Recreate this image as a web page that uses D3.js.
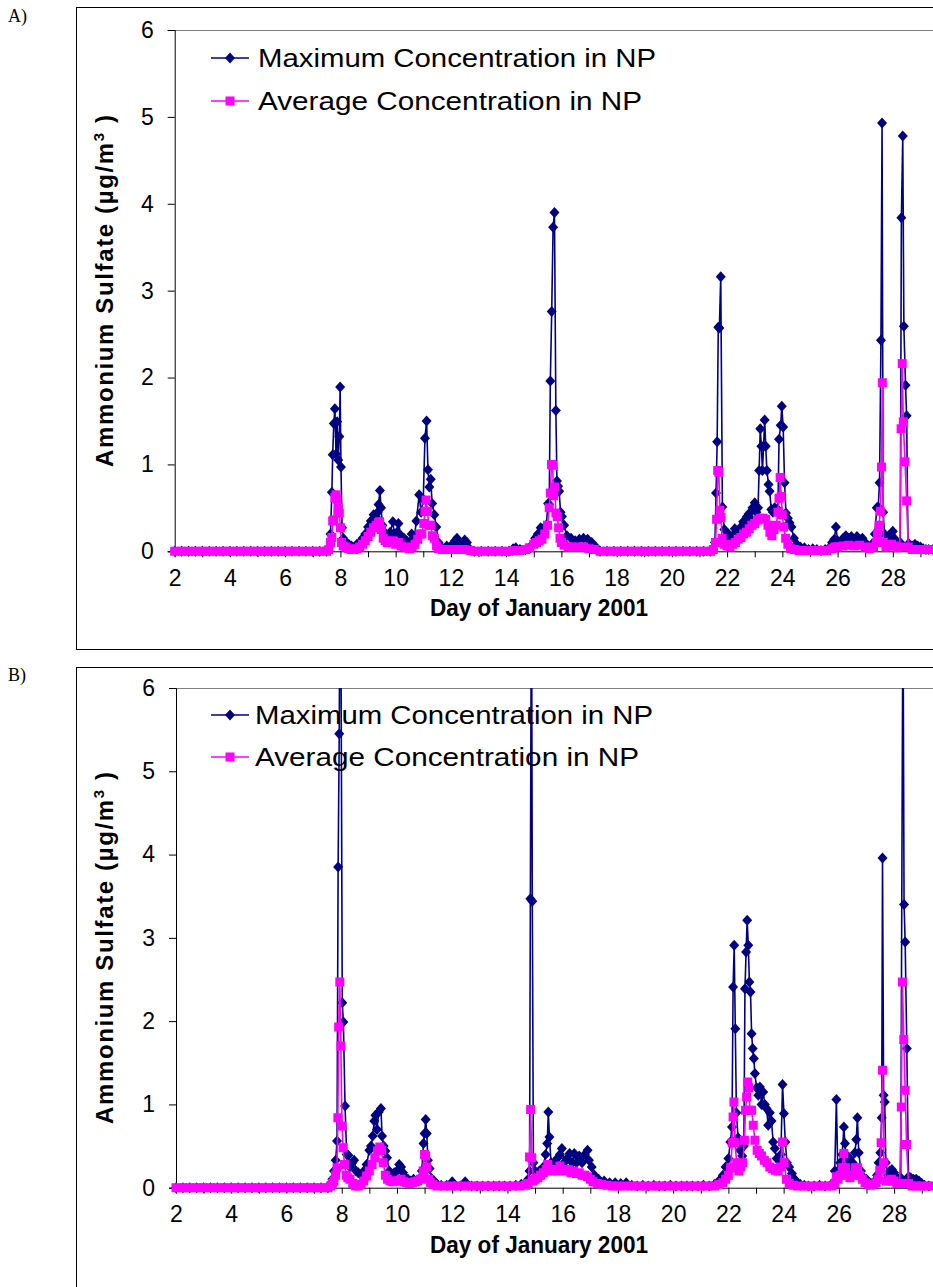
<!DOCTYPE html>
<html>
<head>
<meta charset="utf-8">
<script src="https://cdn.jsdelivr.net/npm/d3@7"></script>
<style>
  body { margin: 0; background: #fff; }
  svg { display: block; }
  text { font-family: "Liberation Sans", Arial, sans-serif; fill: #000; }
</style>
</head>
<body>
<svg id="chart" width="933" height="1287"></svg>
<script>
// tick values / labels
const dayTicks = [2,3,4,5,6,7,8,9,10,11,12,13,14,15,16,17,18,19,20,21,22,23,24,25,26,27,28,29];
const dayLabels = [2,4,6,8,10,12,14,16,18,20,22,24,26,28];
const concTicks = [0,1,2,3,4,5,6];
const seriesNames = ['Maximum Concentration in NP', 'Average Concentration in NP'];

// Panel A: [day, value]
const maxA = [[2,0],[2.25,0],[2.5,0],[2.75,0],[3,0],[3.25,0],[3.5,0],[3.75,0],[4,0],[4.25,0],[4.5,0],[4.75,0],[5,0],[5.25,0],[5.5,0],[5.75,0],[6,0],[6.25,0],[6.5,0],[6.75,0],[7,0],[7.25,0],[7.5,0],
  [7.58,0.05],[7.64,0.2],[7.69,0.68],[7.72,1.11],[7.76,1.47],[7.8,1.64],[7.84,1.12],[7.88,1.49],[7.92,1.05],[7.96,1.32],[7.99,1.89],[8.02,0.97],[8.06,0.27],[8.1,0.15],[8.2,0.1],[8.3,0.08],[8.4,0.06],[8.5,0.05],[8.6,0.08],[8.7,0.1],[8.8,0.15],[8.9,0.2],[9.0,0.28],[9.1,0.35],[9.2,0.42],[9.28,0.4],[9.35,0.45],[9.38,0.54],[9.43,0.7],[9.47,0.5],[9.52,0.3],[9.6,0.22],[9.7,0.18],[9.8,0.22],[9.9,0.34],[9.95,0.2],[10.05,0.22],[10.1,0.32],[10.2,0.18],[10.3,0.15],[10.4,0.12],[10.5,0.1],[10.58,0.2],[10.66,0.12],[10.75,0.35],[10.85,0.65],[10.92,0.45],[11.0,0.6],[11.06,1.3],[11.12,1.5],[11.17,0.94],[11.22,0.74],[11.27,0.83],[11.32,0.55],[11.4,0.42],[11.47,0.28],[11.55,0.1],[11.65,0.05],[11.75,0.03],[11.85,0.06],[11.95,0.04],[12.05,0.08],[12.15,0.12],[12.22,0.15],[12.3,0.08],[12.4,0.05],[12.5,0.13],[12.58,0.1],[12.7,0.02],
  [12.85,0],[13.1,0],[13.35,0],[13.6,0],[13.85,0],[14.1,0],[14.25,0.03],[14.35,0.04],[14.5,0.02],[14.7,0.02],[14.85,0.03],[14.95,0.08],[15.05,0.15],[15.15,0.2],[15.25,0.27],[15.35,0.25],[15.45,0.3],[15.52,0.55],[15.56,0.54],[15.6,1.96],[15.65,2.76],[15.7,3.73],[15.75,3.9],[15.8,1.62],[15.84,0.81],[15.88,0.75],[15.92,0.69],[15.97,0.45],[16.02,0.4],[16.1,0.3],[16.2,0.18],[16.35,0.15],[16.5,0.12],[16.65,0.14],[16.8,0.15],[16.95,0.14],[17.1,0.1],[17.25,0.05],
  [17.4,0],[17.65,0],[17.9,0],[18.15,0],[18.4,0],[18.65,0],[18.9,0],[19.15,0],[19.4,0],[19.65,0],[19.9,0],[20.15,0],[20.4,0],[20.65,0],[20.9,0],[21.15,0],[21.4,0],
  [21.5,0.02],[21.56,0.1],[21.6,0.67],[21.64,1.26],[21.68,2.58],[21.72,2.57],[21.77,3.16],[21.83,0.51],[21.9,0.25],[21.95,0.15],[22.0,0.12],[22.05,0.2],[22.1,0.15],[22.15,0.1],[22.2,0.18],[22.28,0.26],[22.35,0.15],[22.42,0.2],[22.5,0.28],[22.58,0.34],[22.65,0.3],[22.72,0.4],[22.78,0.43],[22.85,0.38],[22.92,0.5],[23.0,0.56],[23.06,0.45],[23.12,0.5],[23.16,0.93],[23.2,1.41],[23.24,1.21],[23.28,0.93],[23.32,1.21],[23.36,1.51],[23.4,1.21],[23.44,0.93],[23.5,0.77],[23.54,0.69],[23.6,0.48],[23.66,0.45],[23.72,0.5],[23.78,0.48],[23.84,0.48],[23.88,1.29],[23.94,1.45],[23.98,1.67],[24.03,1.43],[24.08,0.79],[24.13,0.44],[24.2,0.38],[24.26,0.33],[24.33,0.28],[24.42,0.15],[24.52,0.08],[24.65,0.05],[24.8,0.04],[24.95,0.02],[25.1,0.03],[25.25,0.02],[25.4,0.01],[25.55,0.02],[25.7,0.04],[25.8,0.1],[25.88,0.14],[25.94,0.28],[26.0,0.12],[26.1,0.1],[26.2,0.15],[26.3,0.18],[26.4,0.15],[26.5,0.17],[26.6,0.12],[26.7,0.17],[26.8,0.14],[26.9,0.15],[27.0,0.1],[27.1,0.06],[27.2,0.05],[27.3,0.1],[27.35,0.2],[27.42,0.5],[27.47,0.51],[27.52,0.79],[27.57,2.43],[27.61,4.93],[27.65,0.45],[27.7,0.2],[27.78,0.1],[27.85,0.18],[27.92,0.2],[28.0,0.23],[28.05,0.15],[28.12,0.08],[28.2,0.08],[28.27,0.1],[28.31,3.84],[28.36,4.78],[28.4,2.59],[28.46,1.91],[28.5,1.56],[28.55,0.08],[28.6,0.08],[28.7,0.06],[28.8,0.08],[28.9,0.06],[29.0,0.05],[29.1,0.03],[29.2,0.02],[29.3,0.02],[29.45,0.02]];

const avgA = [[2,0],[2.25,0],[2.5,0],[2.75,0],[3,0],[3.25,0],[3.5,0],[3.75,0],[4,0],[4.25,0],[4.5,0],[4.75,0],[5,0],[5.25,0],[5.5,0],[5.75,0],[6,0],[6.25,0],[6.5,0],[6.75,0],[7,0],[7.25,0],[7.5,0],
  [7.58,0.02],[7.64,0.1],[7.69,0.16],[7.72,0.35],[7.76,0.36],[7.8,0.62],[7.84,0.65],[7.88,0.6],[7.92,0.5],[7.96,0.44],[8.0,0.27],[8.04,0.1],[8.1,0.06],[8.2,0.05],[8.3,0.03],[8.4,0.02],[8.5,0.02],[8.6,0.03],[8.7,0.05],[8.8,0.08],[8.9,0.12],[9.0,0.17],[9.1,0.22],[9.2,0.27],[9.3,0.3],[9.38,0.33],[9.42,0.34],[9.48,0.25],[9.55,0.15],[9.62,0.12],[9.7,0.1],[9.8,0.1],[9.9,0.12],[10.0,0.08],[10.1,0.1],[10.2,0.06],[10.3,0.05],[10.4,0.04],[10.5,0.03],[10.6,0.05],[10.7,0.08],[10.8,0.14],[10.88,0.2],[10.95,0.2],[11.02,0.32],[11.06,0.46],[11.1,0.59],[11.15,0.46],[11.2,0.3],[11.27,0.3],[11.33,0.18],[11.4,0.15],[11.48,0.06],[11.55,0.03],[11.7,0.02],[11.9,0.02],[12.1,0.02],[12.3,0.02],[12.5,0.02],[12.7,0.01],
  [12.85,0],[13.1,0],[13.35,0],[13.6,0],[13.85,0],[14.1,0],[14.3,0.01],[14.5,0.01],[14.7,0.02],[14.85,0.04],[15.0,0.08],[15.1,0.1],[15.2,0.12],[15.3,0.14],[15.4,0.2],[15.5,0.3],[15.56,0.5],[15.6,0.67],[15.64,1.0],[15.68,0.99],[15.72,0.64],[15.76,0.74],[15.8,0.44],[15.85,0.4],[15.9,0.27],[15.95,0.15],[16.0,0.1],[16.1,0.07],[16.25,0.05],[16.4,0.05],[16.6,0.05],[16.8,0.05],[17.0,0.03],[17.2,0.02],
  [17.4,0],[17.65,0],[17.9,0],[18.15,0],[18.4,0],[18.65,0],[18.9,0],[19.15,0],[19.4,0],[19.65,0],[19.9,0],[20.15,0],[20.4,0],[20.65,0],[20.9,0],[21.15,0],[21.4,0],
  [21.5,0.02],[21.58,0.1],[21.62,0.37],[21.66,0.93],[21.7,0.91],[21.74,0.47],[21.78,0.39],[21.82,0.15],[21.9,0.08],[22.0,0.06],[22.1,0.05],[22.2,0.08],[22.3,0.1],[22.4,0.14],[22.5,0.16],[22.6,0.2],[22.7,0.22],[22.8,0.26],[22.9,0.3],[23.0,0.32],[23.1,0.36],[23.2,0.38],[23.3,0.38],[23.4,0.37],[23.48,0.3],[23.55,0.22],[23.62,0.18],[23.7,0.25],[23.78,0.3],[23.84,0.45],[23.88,0.61],[23.92,0.85],[23.96,0.63],[24.0,0.42],[24.05,0.28],[24.12,0.15],[24.2,0.08],[24.3,0.03],[24.45,0.02],[24.6,0.01],[24.8,0.01],[25.0,0.01],[25.2,0.01],[25.4,0.01],[25.6,0.01],[25.8,0.03],[25.9,0.05],[26.0,0.05],[26.2,0.06],[26.4,0.07],[26.6,0.06],[26.8,0.07],[27.0,0.05],[27.15,0.03],[27.3,0.05],[27.4,0.1],[27.45,0.2],[27.5,0.3],[27.55,0.46],[27.59,0.97],[27.62,1.94],[27.66,0.1],[27.75,0.05],[27.85,0.06],[27.95,0.08],[28.05,0.06],[28.15,0.04],[28.25,0.05],[28.3,1.41],[28.34,2.16],[28.38,1.49],[28.44,1.03],[28.5,0.58],[28.56,0.05],[28.7,0.02],[28.9,0.02],[29.1,0.02],[29.3,0.02],[29.45,0.02]];

// Panel B: [day, value]  (values above 6 run off the top of the plot)
const maxB = [[2,0],[2.25,0],[2.5,0],[2.75,0],[3,0],[3.25,0],[3.5,0],[3.75,0],[4,0],[4.25,0],[4.5,0],[4.75,0],[5,0],[5.25,0],[5.5,0],[5.75,0],[6,0],[6.25,0],[6.5,0],[6.75,0],[7,0],[7.25,0],[7.5,0],
  [7.6,0.05],[7.66,0.1],[7.72,0.2],[7.78,0.33],[7.83,0.56],[7.87,3.85],[7.91,5.45],[7.95,8.6],[8.02,2.22],[8.06,1.99],[8.12,0.98],[8.18,0.4],[8.24,0.39],[8.3,0.25],[8.38,0.3],[8.45,0.33],[8.52,0.2],[8.6,0.18],[8.7,0.15],[8.8,0.2],[8.9,0.28],[9.0,0.45],[9.06,0.5],[9.12,0.62],[9.18,0.8],[9.22,0.87],[9.28,0.7],[9.34,0.91],[9.42,0.95],[9.46,0.62],[9.52,0.5],[9.58,0.44],[9.64,0.36],[9.72,0.2],[9.8,0.15],[9.9,0.18],[10.0,0.2],[10.08,0.28],[10.15,0.25],[10.22,0.18],[10.3,0.12],[10.4,0.1],[10.5,0.08],[10.6,0.1],[10.7,0.08],[10.8,0.1],[10.9,0.2],[10.96,0.53],[11.0,0.65],[11.04,0.82],[11.08,0.65],[11.12,0.33],[11.18,0.23],[11.25,0.11],[11.35,0.08],[11.45,0.04],[11.6,0.03],[11.8,0.03],[12.0,0.07],[12.1,0.03],[12.3,0.02],[12.47,0.07],[12.7,0.02],[12.9,0.02],[13.1,0.02],[13.3,0.02],[13.5,0.02],[13.7,0.02],[13.9,0.02],[14.1,0.02],[14.3,0.03],[14.5,0.04],[14.65,0.05],[14.75,0.1],[14.8,0.2],[14.83,3.47],[14.87,7.6],[14.9,3.44],[14.94,0.3],[15.0,0.2],[15.08,0.15],[15.15,0.2],[15.22,0.15],[15.3,0.25],[15.38,0.4],[15.44,0.53],[15.48,0.91],[15.52,0.61],[15.58,0.3],[15.65,0.25],[15.72,0.3],[15.8,0.35],[15.9,0.4],[15.97,0.47],[16.05,0.3],[16.15,0.35],[16.25,0.41],[16.35,0.3],[16.42,0.41],[16.5,0.3],[16.6,0.38],[16.7,0.3],[16.8,0.4],[16.9,0.45],[16.95,0.33],[17.05,0.25],[17.15,0.15],[17.3,0.1],[17.5,0.08],[17.7,0.06],[17.9,0.06],[18.1,0.05],[18.3,0.06],[18.5,0.03],[18.7,0.02],[18.9,0.03],[19.1,0.02],[19.3,0.03],[19.5,0.02],[19.7,0.02],[19.9,0.03],[20.1,0.02],[20.3,0.02],[20.5,0.02],[20.7,0.02],[20.9,0.02],[21.1,0.03],[21.3,0.02],[21.5,0.04],[21.65,0.08],[21.8,0.15],[21.9,0.25],[22.0,0.35],[22.07,0.55],[22.13,0.73],[22.17,2.41],[22.21,2.91],[22.25,1.91],[22.29,0.9],[22.35,0.6],[22.42,0.45],[22.5,0.38],[22.56,0.5],[22.6,2.39],[22.64,2.83],[22.68,3.21],[22.72,2.91],[22.76,2.47],[22.8,2.35],[22.84,1.85],[22.88,1.67],[22.92,1.55],[22.96,1.37],[23.02,1.2],[23.08,1.11],[23.14,1.21],[23.2,1.0],[23.26,1.15],[23.32,1.0],[23.38,0.95],[23.44,0.75],[23.5,0.9],[23.56,0.8],[23.62,0.55],[23.68,0.47],[23.75,0.35],[23.82,0.33],[23.9,0.4],[23.96,1.24],[24.01,0.89],[24.06,0.55],[24.12,0.3],[24.2,0.25],[24.3,0.17],[24.4,0.1],[24.5,0.06],[24.6,0.04],[24.75,0.03],[24.9,0.02],[25.1,0.02],[25.3,0.03],[25.5,0.02],[25.7,0.03],[25.85,0.2],[25.91,1.06],[25.96,0.2],[26.05,0.3],[26.12,0.4],[26.18,0.73],[26.22,0.53],[26.28,0.3],[26.35,0.37],[26.42,0.2],[26.5,0.3],[26.58,0.42],[26.63,0.58],[26.67,0.84],[26.72,0.42],[26.8,0.2],[26.9,0.12],[27.0,0.1],[27.1,0.06],[27.2,0.05],[27.3,0.08],[27.38,0.15],[27.44,0.3],[27.5,0.42],[27.55,0.84],[27.58,3.96],[27.62,1.11],[27.66,1.03],[27.7,0.3],[27.78,0.15],[27.85,0.2],[27.92,0.22],[28.0,0.18],[28.08,0.12],[28.16,0.1],[28.24,0.12],[28.32,7.2],[28.36,3.4],[28.4,2.95],[28.46,1.67],[28.52,0.13],[28.6,0.12],[28.7,0.1],[28.8,0.1],[28.9,0.08],[29.0,0.05],[29.1,0.03],[29.25,0.02],[29.45,0.02]];

const avgB = [[2,0],[2.25,0],[2.5,0],[2.75,0],[3,0],[3.25,0],[3.5,0],[3.75,0],[4,0],[4.25,0],[4.5,0],[4.75,0],[5,0],[5.25,0],[5.5,0],[5.75,0],[6,0],[6.25,0],[6.5,0],[6.75,0],[7,0],[7.25,0],[7.5,0],
  [7.6,0.02],[7.66,0.05],[7.72,0.08],[7.78,0.15],[7.83,0.24],[7.86,0.84],[7.89,1.93],[7.93,2.47],[7.97,1.7],[8.01,0.74],[8.05,0.48],[8.1,0.28],[8.16,0.15],[8.22,0.12],[8.3,0.1],[8.4,0.05],[8.5,0.02],[8.6,0.02],[8.7,0.04],[8.8,0.08],[8.9,0.14],[9.0,0.2],[9.1,0.28],[9.2,0.36],[9.3,0.44],[9.38,0.49],[9.44,0.45],[9.5,0.3],[9.58,0.15],[9.66,0.1],[9.75,0.08],[9.85,0.07],[9.95,0.08],[10.05,0.08],[10.15,0.1],[10.25,0.07],[10.35,0.06],[10.45,0.05],[10.55,0.06],[10.65,0.07],[10.75,0.08],[10.85,0.1],[10.95,0.2],[11.0,0.4],[11.04,0.38],[11.08,0.25],[11.14,0.1],[11.22,0.06],[11.3,0.04],[11.45,0.02],[11.7,0.02],[11.95,0.02],[12.2,0.02],[12.45,0.02],[12.7,0.02],[12.95,0.02],[13.2,0.02],[13.45,0.02],[13.7,0.02],[13.95,0.02],[14.2,0.02],[14.45,0.02],[14.65,0.03],[14.75,0.05],[14.8,0.37],[14.84,0.94],[14.88,0.36],[14.93,0.08],[15.0,0.1],[15.1,0.12],[15.2,0.15],[15.3,0.18],[15.4,0.22],[15.46,0.28],[15.52,0.22],[15.6,0.2],[15.7,0.22],[15.8,0.2],[15.9,0.26],[16.0,0.22],[16.1,0.2],[16.2,0.22],[16.3,0.18],[16.4,0.2],[16.5,0.17],[16.6,0.18],[16.7,0.15],[16.8,0.15],[16.9,0.13],[17.0,0.1],[17.1,0.07],[17.25,0.05],[17.4,0.04],[17.6,0.03],[17.8,0.02],[18.0,0.02],[18.25,0.02],[18.5,0.02],[18.75,0.02],[19.0,0.02],[19.25,0.02],[19.5,0.02],[19.75,0.02],[20.0,0.02],[20.25,0.02],[20.5,0.02],[20.75,0.02],[21.0,0.02],[21.25,0.02],[21.5,0.02],[21.65,0.04],[21.8,0.06],[21.9,0.1],[22.0,0.15],[22.08,0.24],[22.14,0.54],[22.17,0.85],[22.2,1.03],[22.24,0.54],[22.3,0.3],[22.38,0.2],[22.45,0.25],[22.52,0.3],[22.58,0.57],[22.62,0.93],[22.66,1.09],[22.7,1.27],[22.74,1.2],[22.78,0.93],[22.84,0.93],[22.9,0.75],[22.96,0.57],[23.04,0.45],[23.12,0.41],[23.2,0.38],[23.3,0.33],[23.4,0.3],[23.5,0.25],[23.6,0.23],[23.7,0.21],[23.8,0.2],[23.88,0.25],[23.96,0.55],[24.02,0.3],[24.1,0.1],[24.2,0.05],[24.35,0.03],[24.5,0.02],[24.75,0.02],[25.0,0.02],[25.25,0.02],[25.5,0.02],[25.75,0.02],[25.85,0.05],[25.91,0.13],[25.97,0.1],[26.05,0.15],[26.12,0.24],[26.18,0.41],[26.24,0.24],[26.32,0.15],[26.4,0.12],[26.5,0.15],[26.6,0.24],[26.68,0.24],[26.76,0.15],[26.85,0.1],[26.95,0.06],[27.05,0.04],[27.15,0.03],[27.25,0.04],[27.35,0.06],[27.42,0.1],[27.48,0.21],[27.53,0.54],[27.58,1.41],[27.63,0.3],[27.7,0.08],[27.8,0.08],[27.9,0.1],[28.0,0.08],[28.1,0.05],[28.2,0.05],[28.26,0.97],[28.3,2.47],[28.35,1.78],[28.4,1.17],[28.45,0.52],[28.52,0.05],[28.65,0.02],[28.8,0.02],[29.0,0.02],[29.2,0.02],[29.45,0.02]];

const navy = '#000080', pink = '#ff00ff';
const svg = d3.select('#chart');

const panels = [
  { tag: 'A)', tagY: 22, frameTop: 7.5, frameBottom: 649.5, x0: 174.7, top: 30, bottom: 551.3,
    series: [maxA, avgA], legendY: [58, 101], legendTextX: 258, titleY: 291 },
  { tag: 'B)', tagY: 681, frameTop: 667.5, frameBottom: 1300, x0: 176, top: 688, bottom: 1187.7,
    series: [maxB, avgB], legendY: [715, 757], legendTextX: 255, titleY: 948 }
];

// marker shapes (Excel-like diamond and square)
const diamond = 'M0,-5.5L5,0L0,5.5L-5,0Z';
const square = 'M-4.5,-4.5H4.5V4.5H-4.5Z';
const legendWidths = [398, 384];

panels.forEach((p, pi) => {
  // outer frame
  svg.append('rect')
    .attr('x', 76.5).attr('y', p.frameTop)
    .attr('width', 900).attr('height', p.frameBottom - p.frameTop)
    .attr('fill', 'none').attr('stroke', '#000').attr('stroke-width', 1);

  svg.append('text')
    .attr('x', 8).attr('y', p.tagY)
    .style('font-family', '"Liberation Serif", "Times New Roman", serif')
    .style('font-size', '18px')
    .text(p.tag);

  const x = d3.scaleLinear().domain([2, 30]).range([p.x0, p.x0 + 28 * 27.62]);
  const y = d3.scaleLinear().domain([0, 6]).range([p.bottom, p.top]);

  // plot area top border
  svg.append('line')
    .attr('x1', p.x0).attr('x2', 960)
    .attr('y1', p.top + 0.5).attr('y2', p.top + 0.5)
    .attr('stroke', '#808080');

  // axes
  const yAxis = svg.append('g')
    .attr('transform', `translate(${p.x0},0)`)
    .call(d3.axisLeft(y).tickValues(concTicks).tickSize(7).tickPadding(14).tickFormat(d3.format('d')));
  yAxis.selectAll('text').style('font-size', '23px');

  const xAxis = svg.append('g')
    .attr('transform', `translate(0,${p.bottom})`)
    .call(d3.axisBottom(x).tickValues(dayTicks).tickSize(6).tickPadding(12)
      .tickFormat(d => dayLabels.includes(d) ? d : ''));
  xAxis.selectAll('text').style('font-size', '23px');
  xAxis.select('.domain').attr('d', `M${p.x0},0.5H960`);
  [yAxis, xAxis].forEach(a => a.selectAll('line, path').attr('stroke', '#000'));

  // axis titles
  svg.append('text')
    .attr('x', 539).attr('y', p.bottom + 65)
    .attr('text-anchor', 'middle')
    .attr('textLength', 218).attr('lengthAdjust', 'spacingAndGlyphs')
    .style('font-size', '24px').style('font-weight', 'bold')
    .text('Day of January 2001');

  const yt = svg.append('text')
    .attr('transform', `translate(113,${p.titleY}) rotate(-90)`)
    .attr('text-anchor', 'middle')
    .attr('textLength', 352).attr('lengthAdjust', 'spacing')
    .style('font-size', '24px').style('font-weight', 'bold');
  yt.append('tspan').text('Ammonium Sulfate (µg/m');
  yt.append('tspan').attr('dy', -9).style('font-size', '15px').text('3');
  yt.append('tspan').attr('dy', 9).text(' )');

  // data, clipped at the top of the plot area
  const clipId = `clip${pi}`;
  svg.append('clipPath').attr('id', clipId)
    .append('rect')
    .attr('x', p.x0 - 10).attr('y', p.top)
    .attr('width', 960 - p.x0).attr('height', p.bottom - p.top + 20);
  const g = svg.append('g').attr('clip-path', `url(#${clipId})`);

  const line = d3.line().x(d => x(d[0])).y(d => y(d[1]));
  const colors = [navy, pink];
  const shapes = [diamond, square];

  p.series.forEach((s, si) => {
    g.append('path')
      .datum(s)
      .attr('d', line)
      .attr('fill', 'none')
      .attr('stroke', colors[si])
      .attr('stroke-width', 1.6)
      .attr('stroke-linejoin', 'round');
    g.append('g').selectAll('path')
      .data(s)
      .enter()
      .append('path')
      .attr('d', shapes[si])
      .attr('transform', d => `translate(${x(d[0])},${y(d[1])})`)
      .attr('fill', colors[si]);
  });

  // legend
  seriesNames.forEach((name, si) => {
    const ly = p.legendY[si];
    svg.append('line')
      .attr('x1', 211).attr('x2', 249)
      .attr('y1', ly).attr('y2', ly)
      .attr('stroke', colors[si]).attr('stroke-width', 1.6);
    svg.append('path')
      .attr('d', shapes[si])
      .attr('transform', `translate(230,${ly})`)
      .attr('fill', colors[si]);
    svg.append('text')
      .attr('x', p.legendTextX).attr('y', ly + 9)
      .attr('textLength', legendWidths[si]).attr('lengthAdjust', 'spacingAndGlyphs')
      .style('font-size', '25px')
      .text(name);
  });
});
</script>
</body>
</html>
